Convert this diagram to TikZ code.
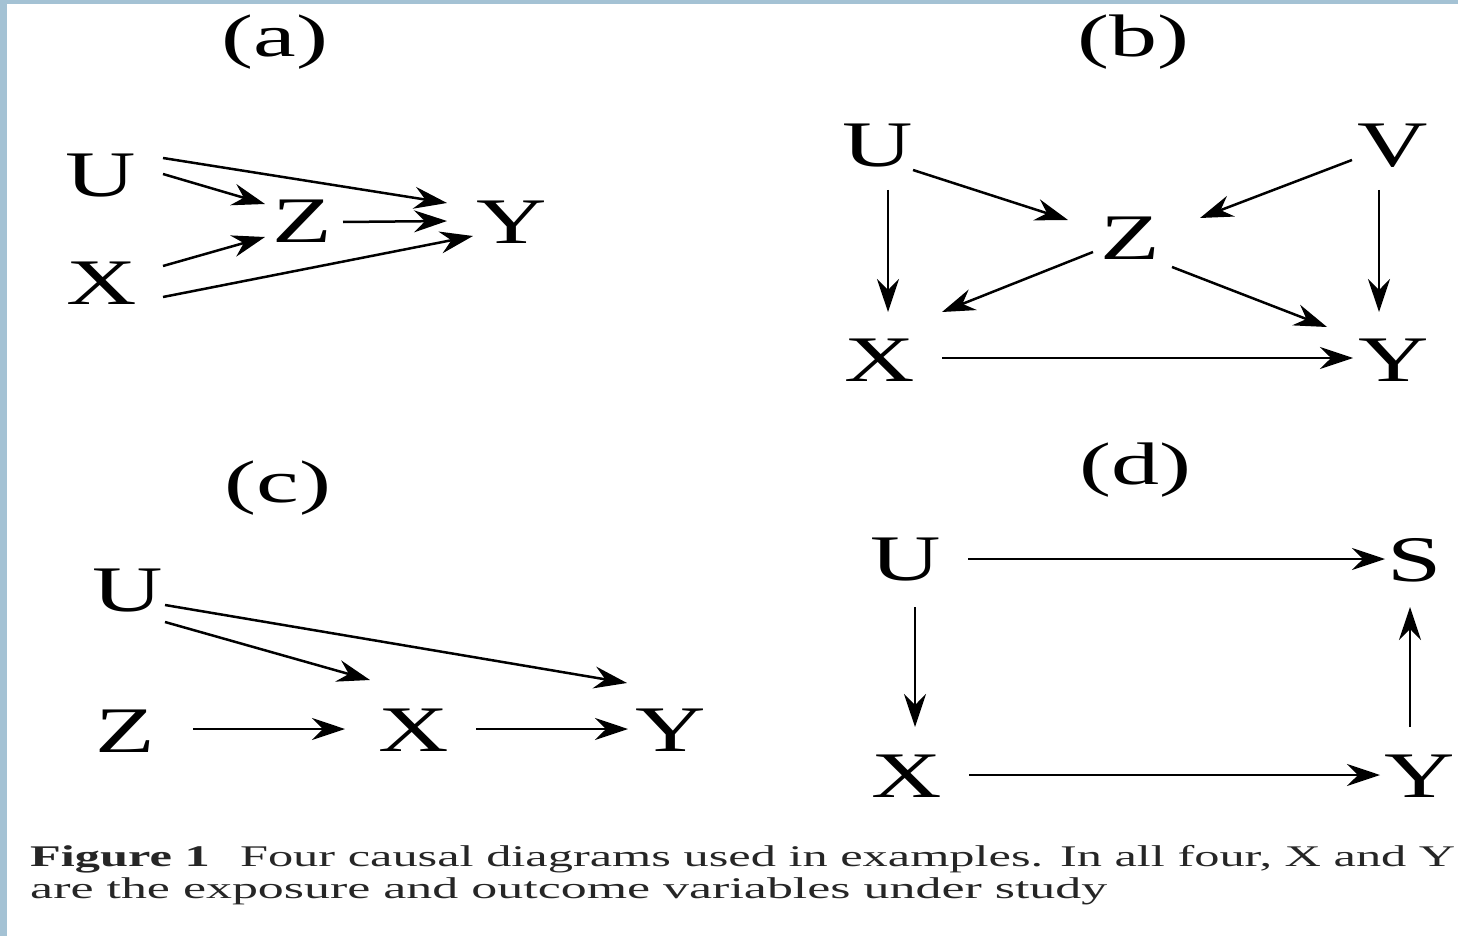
\documentclass[tikz,border=0pt]{standalone}
\usepackage{fontspec}
\setmainfont{Liberation Serif}
\usetikzlibrary{arrows.meta,calc}
\definecolor{frameblue}{HTML}{A4C2D4}
\definecolor{captext}{HTML}{262626}
\newcommand{\vlet}[1]{\scalebox{1.5}[1]{\fontsize{65}{70}\selectfont #1}}
\newcommand{\plab}[1]{\scalebox{1.6}[1]{\fontsize{60}{66}\selectfont #1}}
\tikzset{
  var/.style={inner sep=0pt, outer sep=0pt, text=black},
  panel/.style={inner sep=0pt, outer sep=0pt},
  arr/.style={line width=2.5pt, -{Stealth[length=33pt,width=22pt,inset=11pt]}},
  captionline/.style={inner sep=0pt, anchor=base west, text=captext}
}
\begin{document}
\begin{tikzpicture}[x=1pt,y=-1pt]
\useasboundingbox (0,0) rectangle (1458,936);
\fill[white] (0,0) rectangle (1458,936);
\fill[frameblue] (0,0) rectangle (7,936);
\fill[frameblue] (0,0) rectangle (1458,4);
% panel labels
\node[panel] (la) at (275,42) {\plab{(a)}};
\node[panel] (lb) at (1133,42) {\plab{(b)}};
\node[panel] (lc) at (278,488) {\plab{(c)}};
\node[panel] (ld) at (1135,470) {\plab{(d)}};
% (a)
\node[var] (aU) at (101,176) {\vlet{U}};
\node[var] (aX) at (102,283) {\vlet{X}};
\node[var] (aZ) at (302,221) {\vlet{Z}};
\node[var] (aY) at (512,222) {\vlet{Y}};
\draw[arr] ($(aU)+(62,-18)$) -- ($(aY)+(-65,-19)$);
\draw[arr] ($(aU)+(62,-2)$) -- ($(aZ)+(-37,-17)$);
\draw[arr] ($(aX)+(61,-17)$) -- ($(aZ)+(-37,16)$);
\draw[arr] ($(aZ)+(41,1)$) -- ($(aY)+(-65,-1)$);
\draw[arr] ($(aX)+(61,14)$) -- ($(aY)+(-39,14)$);
% (b)
\node[var] (bU) at (878,146) {\vlet{U}};
\node[var] (bV) at (1393,146) {\vlet{V}};
\node[var] (bZ) at (1130,238) {\vlet{Z}};
\node[var] (bX) at (880,360) {\vlet{X}};
\node[var] (bY) at (1394,360) {\vlet{Y}};
\draw[arr] ($(bU)+(10,44)$) -- ($(bX)+(8,-48)$);
\draw[arr] ($(bV)+(-14,44)$) -- ($(bY)+(-15,-48)$);
\draw[arr] ($(bU)+(35,24)$) -- ($(bZ)+(-62,-18)$);
\draw[arr] ($(bV)+(-41,14)$) -- ($(bZ)+(70,-20)$);
\draw[arr] ($(bZ)+(-37,14)$) -- ($(bX)+(62,-48)$);
\draw[arr] ($(bZ)+(42,29)$) -- ($(bY)+(-67,-33)$);
\draw[arr] ($(bX)+(62,-2)$) -- ($(bY)+(-41,-2)$);
% (c)
\node[var] (cU) at (128,591) {\vlet{U}};
\node[var] (cZ) at (125,731) {\vlet{Z}};
\node[var] (cX) at (414,730) {\vlet{X}};
\node[var] (cY) at (671,730) {\vlet{Y}};
\draw[arr] ($(cU)+(37,31)$) -- ($(cX)+(-44,-50)$);
\draw[arr] ($(cU)+(37,14)$) -- ($(cY)+(-44,-47)$);
\draw[arr] ($(cZ)+(68,-2)$) -- ($(cX)+(-69,-1)$);
\draw[arr] ($(cX)+(62,-1)$) -- ($(cY)+(-43,-1)$);
% (d)
\node[var] (dU) at (906,560) {\vlet{U}};
\node[var] (dS) at (1415,560) {\vlet{S}};
\node[var] (dX) at (907,776) {\vlet{X}};
\node[var] (dY) at (1420,776) {\vlet{Y}};
\draw[arr] ($(dU)+(62,-1)$) -- ($(dS)+(-30,-1)$);
\draw[arr] ($(dU)+(9,47)$) -- ($(dX)+(8,-49)$);
\draw[arr] ($(dY)+(-10,-49)$) -- ($(dS)+(-5,47)$);
\draw[arr] ($(dX)+(62,-1)$) -- ($(dY)+(-40,-1)$);
% caption
\node[captionline] (cap1) at (30,866) {\resizebox{1425pt}{\height}{\fontsize{30}{32}\selectfont\textbf{Figure 1}\hspace{0.6em}Four causal diagrams used in examples. In all four, X and Y}};
\node[captionline] (cap2) at (30,898) {\resizebox{1077pt}{\height}{\fontsize{30}{32}\selectfont are the exposure and outcome variables under study}};
\end{tikzpicture}
\end{document}
